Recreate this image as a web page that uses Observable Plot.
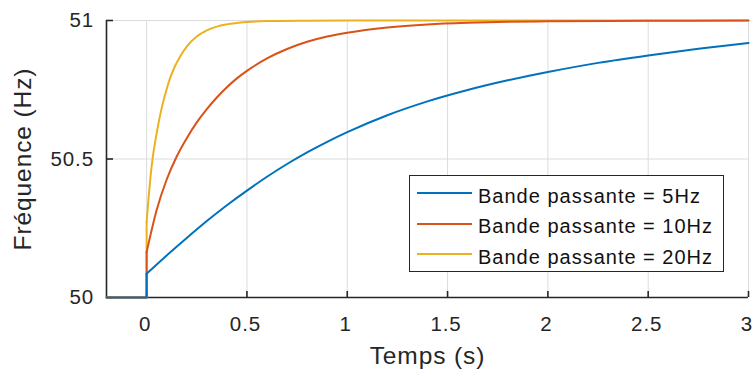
<!DOCTYPE html>
<html>
<head>
<meta charset="utf-8">
<script src="https://cdn.jsdelivr.net/npm/d3@7"></script>
<script src="https://cdn.jsdelivr.net/npm/@observablehq/plot@0.6"></script>
<style>
  body { margin: 0; background: #fff; }
  #wrap { position: relative; width: 753px; height: 376px; font-family: "Liberation Sans", Arial, sans-serif; color: #262626; }
  #wrap svg { overflow: visible; }
  #wrap svg text { letter-spacing: 0.9px; }
  #legend { position: absolute; left: 409px; top: 175px; width: 313px; height: 95px; border: 1px solid #262626; background: #fff; }
  .sw { position: absolute; left: 7px; width: 55px; height: 0; border-top: 2px solid; }
  .lt { position: absolute; left: 68px; height: 30px; line-height: 30px; font-size: 20px; letter-spacing: 1px; white-space: nowrap; color: #111; }
</style>
</head>
<body>
<div id="wrap"></div>
<script>
// ---- data ----
const series = ["Bande passante = 5Hz", "Bande passante = 10Hz", "Bande passante = 20Hz"];
const colors = ["#0072BD", "#D95319", "#EDB120"];

// common flat part before the step (time s, frequency Hz)
const tPre = [-0.2, 0];
const fPre = [50, 50];

// 5 Hz bandwidth
const t5 = [0, 0.1, 0.2, 0.3, 0.4, 0.5, 0.6, 0.7, 0.8, 0.9, 1.0, 1.2, 1.4, 1.6, 1.8, 2.0, 2.25, 2.5, 2.75, 3.0];
const f5 = [50.086, 50.152, 50.215, 50.276, 50.333, 50.386, 50.436, 50.482, 50.524, 50.562, 50.597, 50.658, 50.708, 50.749, 50.784, 50.814, 50.847, 50.874, 50.898, 50.919];

// 10 Hz bandwidth
const t10 = [0, 0.05, 0.1, 0.15, 0.2, 0.25, 0.3, 0.35, 0.4, 0.45, 0.5, 0.6, 0.7, 0.8, 0.9, 1.0, 1.2, 1.4, 1.6, 1.8, 2.0, 2.5, 3.0];
const f10 = [50.164, 50.316, 50.426, 50.509, 50.575, 50.632, 50.680, 50.722, 50.759, 50.791, 50.818, 50.863, 50.897, 50.923, 50.942, 50.956, 50.975, 50.986, 50.992, 50.9955, 50.997, 50.999, 51.0];

// 20 Hz bandwidth
const t20 = [0, 0.01, 0.02, 0.03, 0.04, 0.05, 0.06, 0.08, 0.1, 0.12, 0.14, 0.17, 0.2, 0.25, 0.3, 0.35, 0.4, 0.5, 0.6, 0.8, 1.0, 3.0];
const f20 = [50.272, 50.362, 50.44, 50.503, 50.551, 50.593, 50.632, 50.699, 50.753, 50.798, 50.833, 50.874, 50.906, 50.942, 50.964, 50.978, 50.986, 50.9945, 50.998, 50.9995, 51.0, 51.0];

const xTicks = [0, 0.5, 1, 1.5, 2, 2.5, 3];
const yTicks = [50, 50.5, 51];
const yGrid = [50.5, 51];
const xLabel = "Temps (s)";
const yLabel = "Fréquence (Hz)";

// ---- build ----
const rows = (ts, fs) => ts.map((t, i) => ({t, f: fs[i]}));
const curves = [[t5, f5], [t10, f10], [t20, f20]];
const lineMarks = [];
for (let i = curves.length - 1; i >= 0; i--) {
  const [ts, fs] = curves[i];
  const step = rows(tPre.concat([ts[0]]), fPre.concat([fs[0]]));
  lineMarks.push(Plot.line(step, {x: "t", y: "f", stroke: colors[i], strokeWidth: 2}));
  lineMarks.push(Plot.line(rows(ts, fs), {x: "t", y: "f", stroke: colors[i], strokeWidth: 2, curve: "monotone-x"}));
}

const axisColor = "#262626";
const chart = Plot.plot({
  width: 753,
  height: 376,
  marginLeft: 106,
  marginRight: 5,
  marginTop: 20,
  marginBottom: 79,
  x: {domain: [-0.2, 3]},
  y: {domain: [50, 51]},
  style: {fontFamily: "'Liberation Sans', Arial, sans-serif", background: "transparent", color: axisColor, overflow: "visible"},
  marks: [
    Plot.gridX(xTicks, {stroke: "#dcdcdc", strokeOpacity: 1, strokeWidth: 1}),
    Plot.gridY(yGrid, {stroke: "#dcdcdc", strokeOpacity: 1, strokeWidth: 1}),
    Plot.ruleY([yTicks[0]], {stroke: axisColor, strokeWidth: 1.6}),
    Plot.ruleX([-0.2], {stroke: axisColor, strokeWidth: 1.6}),
    // inward x ticks (no text)
    Plot.axisX(xTicks, {tickSize: -6, strokeWidth: 1.6, tickFormat: () => "", label: null}),
    // x tick labels
    Plot.axisX(xTicks, {tickSize: 0, tickPadding: 19, dx: -1.5, fontSize: 20.5, tickFormat: d => String(d), label: null, fill: "#262626"}),
    Plot.axisY(yTicks, {tickSize: -7, tickPadding: 19.5, fontSize: 20.5, strokeWidth: 1.6, tickFormat: d => String(d), label: null, fill: "#262626"}),
    Plot.text([xLabel], {frameAnchor: "bottom", dy: 66, text: d => d, fontSize: 24.5, fill: "#262626"}),
    Plot.text([yLabel], {frameAnchor: "left", textAnchor: "middle", dx: -83, rotate: -90, text: d => d, fontSize: 24.5, fill: "#262626"}),
    ...lineMarks
  ]
});
const wrap = document.getElementById("wrap");
wrap.appendChild(chart);

// legend
const legend = document.createElement("div");
legend.id = "legend";
const swY = [17.3, 48, 78.3];
const txY = [19.5, 50.2, 80.5];
series.forEach((s, i) => {
  const sw = document.createElement("div");
  sw.className = "sw";
  sw.style.top = (swY[i] - 1) + "px";
  sw.style.borderTopColor = colors[i];
  legend.appendChild(sw);
  const lt = document.createElement("div");
  lt.className = "lt";
  lt.style.top = (txY[i] - 15) + "px";
  lt.textContent = s;
  legend.appendChild(lt);
});
wrap.appendChild(legend);
</script>
</body>
</html>
